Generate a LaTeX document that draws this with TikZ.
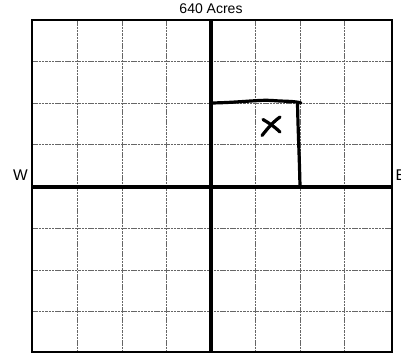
\documentclass[tikz,border=0pt]{standalone}
\usepackage{fontspec}
\setmainfont{Liberation Sans}
\begin{document}
\begin{tikzpicture}[x=1pt,y=-1pt,
  gridline/.style={line width=0.7pt,gray!80!black,dash pattern=on 2.5pt off 0.8pt},
  frame/.style={line width=2.8pt,black},
  mainline/.style={line width=4.4pt,black},
  hand/.style={line width=3.2pt,black,line cap=round,line join=round},
  lbl/.style={font=\fontsize{15.5}{15.5}\selectfont,inner sep=0pt}]
\useasboundingbox (0,0) rectangle (401,354);
% thin grid
\foreach \x in {77.5,122,166.5,255.5,300,344.5}
  \draw[gridline] (\x,20) -- (\x,352);
\foreach \y in {61.5,103,144.5,228.5,270,311.5}
  \draw[gridline] (32,\y) -- (392,\y);
% main quarter lines
\draw[mainline] (211,20) -- (211,352);
\draw[mainline] (32,187) -- (392,187);
% outer frame
\draw[frame] (32,20) rectangle (392,352);
% hand-drawn quarter-quarter
\draw[hand] (211,103) .. controls (240,102.5) and (260,99.5) .. (272,100.5)
  .. controls (285,101.5) and (295,101) .. (301,103);
\draw[hand] (297.5,103) .. controls (298,130) and (299.5,160) .. (300,187);
% X mark
\draw[hand] (262,135.5) .. controls (268,128) and (273,122) .. (280,117);
\draw[hand] (263,119.5) .. controls (269,123) and (275,127) .. (280,132);
% labels
\node[inner sep=0pt,font=\fontsize{14}{14}\selectfont] (title) at (211,8.5) {640 Acres};
\node[lbl,anchor=base] (w) at (20.5,180.5) {W};
\node[lbl,anchor=base west] (e) at (395.5,180.5) {E};
\end{tikzpicture}
\end{document}
